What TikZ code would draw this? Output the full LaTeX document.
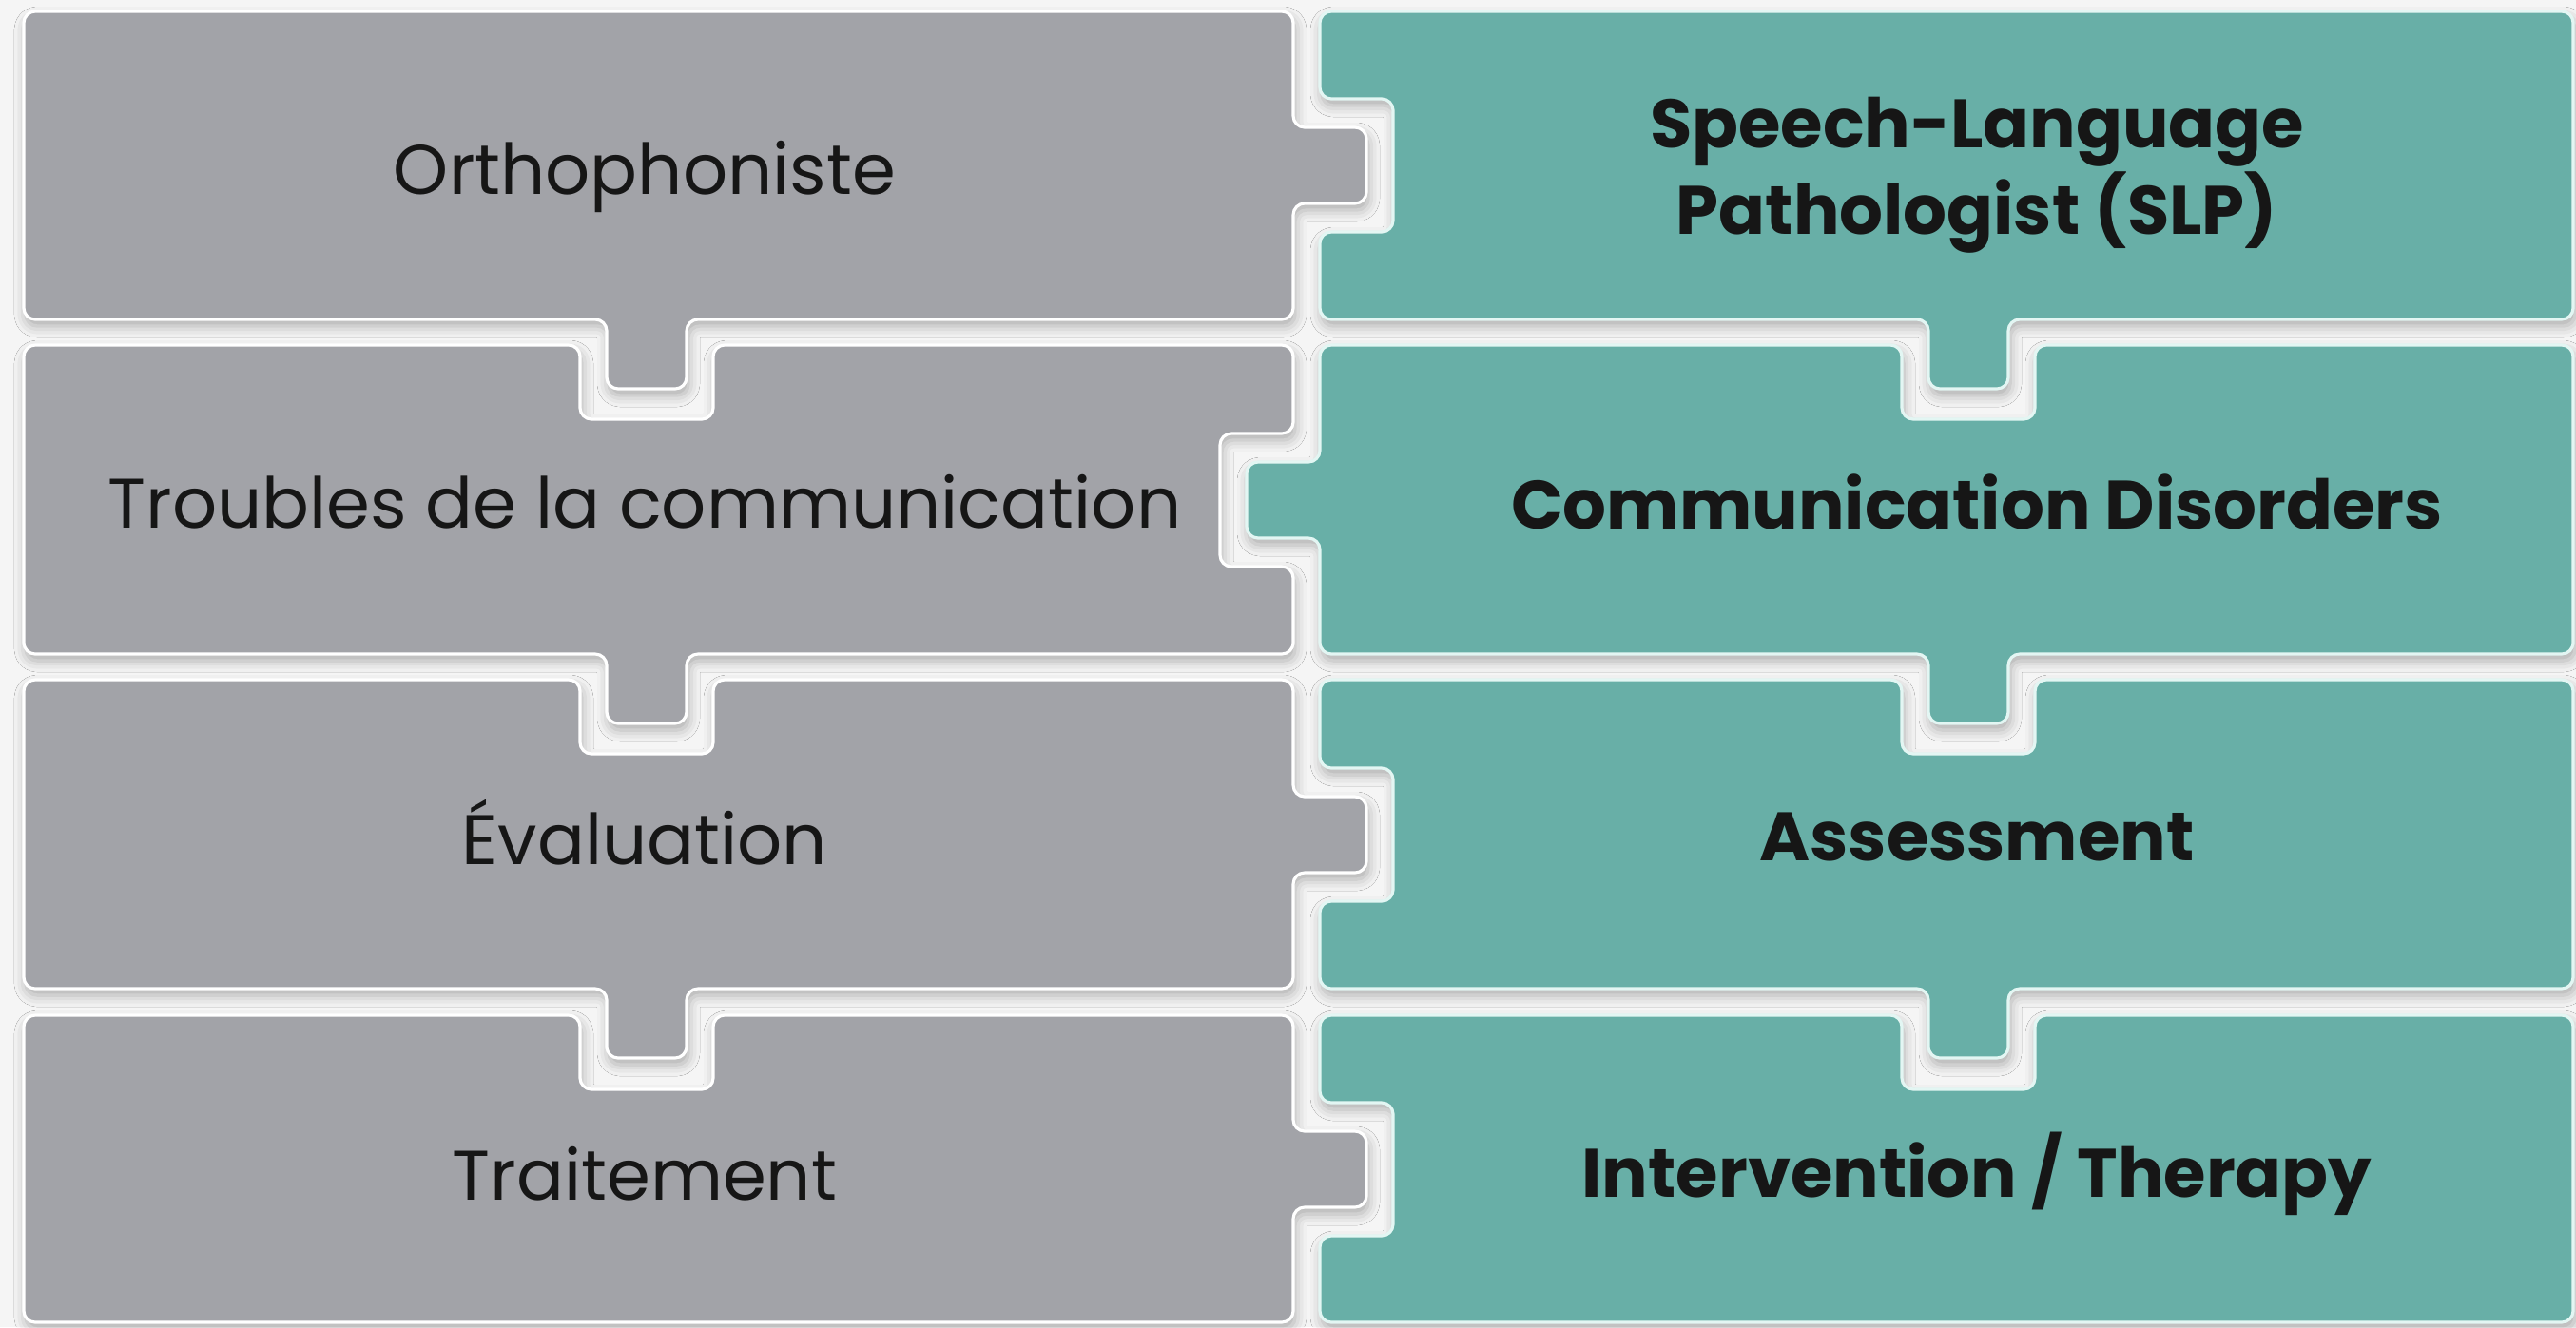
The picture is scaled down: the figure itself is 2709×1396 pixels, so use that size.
\documentclass[tikz,border=0pt]{standalone}
\usepackage{fontspec}
\setmainfont{Poppins}
\usetikzlibrary{shadows.blur}
\definecolor{bg}{HTML}{F5F5F5}
\definecolor{pgray}{HTML}{A2A3A8}
\definecolor{pteal}{HTML}{68AFA7}
\definecolor{tealedge}{HTML}{E3F6F3}
\definecolor{txt}{HTML}{161616}
\tikzset{
  piece/.style={rounded corners=0.12cm, line width=0.9pt,
    blur shadow={shadow xshift=0.02cm, shadow yshift=-0.07cm, shadow opacity=30, shadow blur radius=0.12cm}},
  graypiece/.style={piece, fill=pgray, draw=white},
  tealpiece/.style={piece, fill=pteal, draw=tealedge},
  frtext/.style={font=\fontsize{21}{26}\selectfont, text=txt},
  entext/.style={font=\bfseries\fontsize{20.5}{26}\selectfont, text=txt, align=center},
}
\begin{document}
\begin{tikzpicture}[x=0.01cm,y=-0.01cm]
\useasboundingbox (0,0) rectangle (2709,1396);
\fill[bg] (0,0) rectangle (2709,1396);

% ---------- Row 1 ----------
\draw[graypiece] (25,12) -- (1360,12) -- (1360,134) -- (1437,134) -- (1437,214) -- (1360,214)
  -- (1360,336) -- (722,336) -- (722,409) -- (638,409) -- (638,336) -- (25,336) -- cycle;
\draw[tealpiece] (1388,12) -- (2706,12) -- (2706,336) -- (2112,336) -- (2112,409) -- (2028,409)
  -- (2028,336) -- (1388,336) -- (1388,244) -- (1465,244) -- (1465,104) -- (1388,104) -- cycle;

% ---------- Row 2 ----------
\draw[graypiece] (25,363) -- (610,363) -- (610,441) -- (750,441) -- (750,363) -- (1360,363)
  -- (1360,456) -- (1283,456) -- (1283,596) -- (1360,596) -- (1360,688) -- (722,688)
  -- (722,761) -- (638,761) -- (638,688) -- (25,688) -- cycle;
\draw[tealpiece] (1388,363) -- (2000,363) -- (2000,441) -- (2140,441) -- (2140,363) -- (2706,363)
  -- (2706,688) -- (2112,688) -- (2112,761) -- (2028,761) -- (2028,688) -- (1388,688)
  -- (1388,566) -- (1311,566) -- (1311,486) -- (1388,486) -- cycle;

% ---------- Row 3 ----------
\draw[graypiece] (25,715) -- (610,715) -- (610,793) -- (750,793) -- (750,715) -- (1360,715)
  -- (1360,838) -- (1437,838) -- (1437,918) -- (1360,918) -- (1360,1040) -- (722,1040)
  -- (722,1113) -- (638,1113) -- (638,1040) -- (25,1040) -- cycle;
\draw[tealpiece] (1388,715) -- (2000,715) -- (2000,793) -- (2140,793) -- (2140,715) -- (2706,715)
  -- (2706,1040) -- (2112,1040) -- (2112,1113) -- (2028,1113) -- (2028,1040) -- (1388,1040)
  -- (1388,948) -- (1465,948) -- (1465,808) -- (1388,808) -- cycle;

% ---------- Row 4 ----------
\draw[graypiece] (25,1068) -- (610,1068) -- (610,1146) -- (750,1146) -- (750,1068) -- (1360,1068)
  -- (1360,1190) -- (1437,1190) -- (1437,1270) -- (1360,1270) -- (1360,1391) -- (25,1391) -- cycle;
\draw[tealpiece] (1388,1068) -- (2000,1068) -- (2000,1146) -- (2140,1146) -- (2140,1068) -- (2706,1068)
  -- (2706,1391) -- (1388,1391) -- (1388,1300) -- (1465,1300) -- (1465,1160) -- (1388,1160) -- cycle;

% ---------- Texts ----------
\node[frtext] (fr1) at (678,186) {Orthophoniste};
\node[frtext] (fr2) at (678,528) {Troubles de la communication};
\node[frtext] (fr3) at (678,876) {Évaluation};
\node[frtext] (fr4) at (678,1235) {Traitement};
\node[entext] (en1) at (2079,184) {Speech-Language\\Pathologist (SLP)};
\node[entext] (en2) at (2079,528) {Communication Disorders};
\node[entext] (en3) at (2079,880) {Assessment};
\node[entext] (en4) at (2079,1235) {Intervention / Therapy};
\end{tikzpicture}
\end{document}
